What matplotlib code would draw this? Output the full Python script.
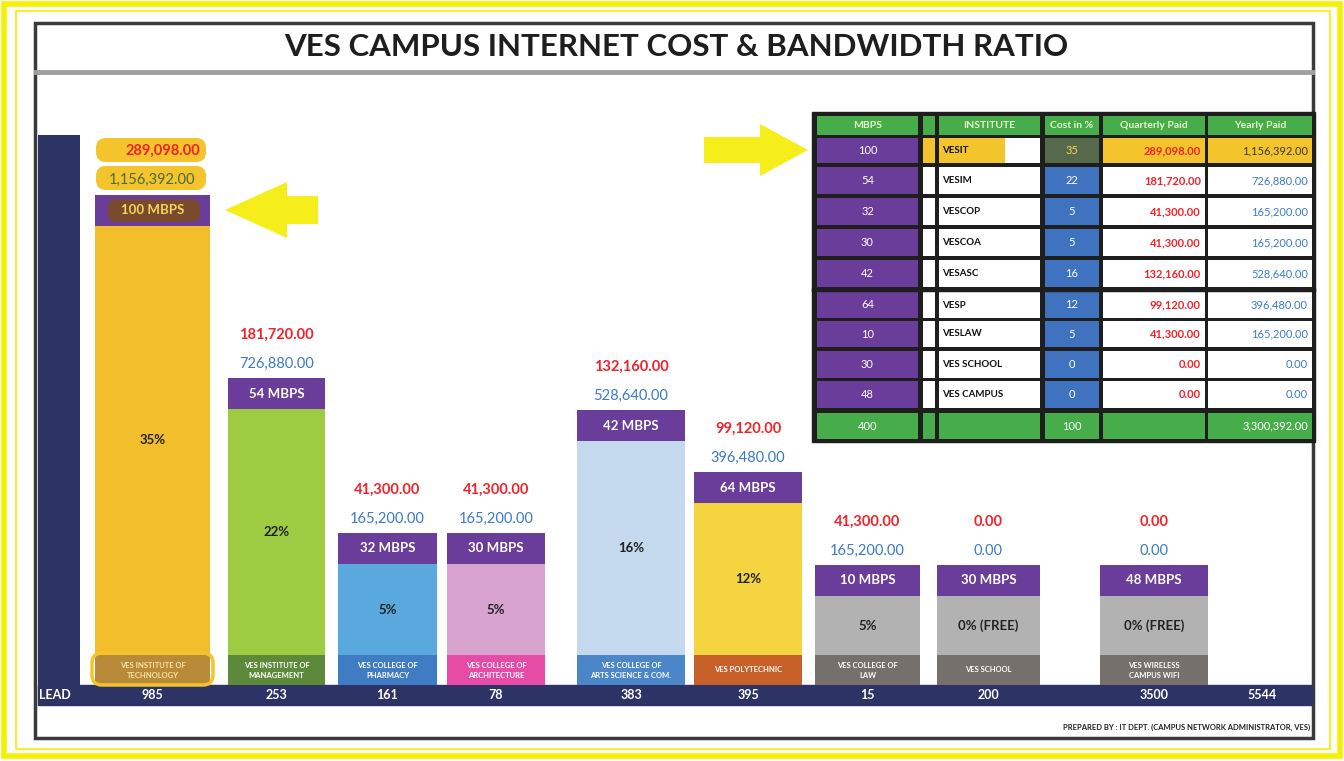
import matplotlib.pyplot as plt
from matplotlib.patches import Rectangle, FancyBboxPatch, Polygon

# chart data
institutes = ["VESIT", "VESIM", "VESCOP", "VESCOA", "VESASC", "VESP", "VESLAW", "VES SCHOOL", "VES CAMPUS"]
bar_names = ["VES INSTITUTE OF\nTECHNOLOGY", "VES INSTITUTE OF\nMANAGEMENT", "VES COLLEGE OF\nPHARMACY",
             "VES COLLEGE OF\nARCHITECTURE", "VES COLLEGE OF\nARTS SCIENCE & COM.", "VES POLYTECHNIC",
             "VES COLLEGE OF\nLAW", "VES SCHOOL", "VES WIRELESS\nCAMPUS WIFI"]
mbps = [100, 54, 32, 30, 42, 64, 10, 30, 48]
cost_pct = [35, 22, 5, 5, 16, 12, 5, 0, 0]
pct_labels = ["35%", "22%", "5%", "5%", "16%", "12%", "5%", "0% (FREE)", "0% (FREE)"]
quarterly = [289098, 181720, 41300, 41300, 132160, 99120, 41300, 0, 0]
yearly = [1156392, 726880, 165200, 165200, 528640, 396480, 165200, 0, 0]
bar_heights = [490, 307, 152, 152, 275, 213, 120, 120, 120]   # drawn height, in picture units
users = ["985", "253", "161", "78", "383", "395", "15", "200", "3500"]
lead_label = "LEAD"
users_total = "5544"
total_mbps = "400"
total_pct = "100"
total_yearly = "3,300,392.00"
table_headers = ["MBPS", "", "INSTITUTE", "Cost in %", "Quarterly Paid", "Yearly Paid"]

# layout (picture pixels, y down)
bar_x = [152.5, 276.5, 387.5, 496, 631, 748, 867.5, 988.5, 1154]
bar_w = [115, 97, 99, 98, 108, 108, 105, 103, 108]
body_colors = ["#F2BE2C", "#9DCB42", "#5AA9DE", "#D9A3CF", "#C4D9EE", "#F5D53F", "#B2B2B2", "#B2B2B2", "#B2B2B2"]
foot_colors = ["#B98A3A", "#5C8A3A", "#3F7CC4", "#E64BA6", "#4A86C8", "#C8602A", "#76706C", "#76706C", "#76706C"]
PURPLE = "#6A3D9A"
NAVY = "#2E3366"
RED = "#F2222A"
BLUE = "#3B7BC8"
BASE = 685
FOOT_H = 30
CAP_H = 31

plt.rcParams['font.family'] = ['Lato', 'DejaVu Sans']

fig = plt.figure(figsize=(13.44, 7.61), dpi=100)
ax = fig.add_axes([0, 0, 1, 1])
ax.set_xlim(0, 1344)
ax.set_ylim(761, 0)
ax.axis('off')

# frames
ax.add_patch(Rectangle((4, 4), 1336, 752, fill=False, ec="#F5F000", lw=4))
ax.add_patch(Rectangle((16, 11), 1314, 738, fill=False, ec="#F5F000", lw=1.2))
ax.add_patch(Rectangle((35, 23), 1278, 715, fill=False, ec="#3A3A3A", lw=2.5))
ax.plot([36, 1312], [72, 72], color="#A0A0A0", lw=3.5)
ax.text(676, 47, "VES CAMPUS INTERNET COST & BANDWIDTH RATIO", ha="center", va="center",
        fontsize=22.5, fontweight="bold", color="#1E1E1E")

# left lead bar and base band
ax.bar(59, BASE - 135, bottom=135, width=42, color=NAVY)
ax.add_patch(Rectangle((38, BASE), 1274, 20, color=NAVY))
ax.text(55, BASE + 10, lead_label, ha="center", va="center", color="white", fontsize=9, fontweight="bold")
for x, u in zip(bar_x, users):
    ax.text(x, BASE + 10, u, ha="center", va="center", color="white", fontsize=9, fontweight="bold")
ax.text(1262, BASE + 10, users_total, ha="center", va="center", color="white", fontsize=9, fontweight="bold")

# bars: footer box, body, purple cap
tops = [BASE - h for h in bar_heights]
ax.bar(bar_x, [CAP_H] * 9, bottom=tops, width=bar_w, color=PURPLE)
body_top = [t + CAP_H for t in tops]
ax.bar(bar_x, [BASE - FOOT_H - b for b in body_top], bottom=body_top, width=bar_w, color=body_colors)
ax.bar(bar_x, [FOOT_H] * 9, bottom=[BASE - FOOT_H] * 9, width=bar_w, color=foot_colors)

# yellow glow round the VESIT footer
ax.add_patch(FancyBboxPatch((92, BASE - FOOT_H - 2), 121, FOOT_H + 2, boxstyle="round,pad=0,rounding_size=10",
                            fc="none", ec="#F4C42C", lw=2.5))

for i, x in enumerate(bar_x):
    t = tops[i]
    mid = (t + CAP_H + BASE - FOOT_H) / 2
    ax.text(x, mid, pct_labels[i], ha="center", va="center", fontsize=9.5, fontweight="bold", color="#222222")
    ax.text(x, BASE - FOOT_H / 2, bar_names[i], ha="center", va="center", fontsize=5.5,
            color="#F4E6A0" if i == 0 else "white", fontweight="bold", linespacing=1.5)
    if i == 0:
        # highlighted labels for VESIT
        for yy in (138, 166):
            ax.add_patch(FancyBboxPatch((96, yy), 110, 24, boxstyle="round,pad=0,rounding_size=10",
                                        fc="#F4C42C", ec="none"))
        ax.text(x + 10, 151, f"{quarterly[i]:,.2f}", ha="center", va="center", fontsize=10.5,
                fontweight="bold", color=RED)
        ax.text(x, 180, f"{yearly[i]:,.2f}", ha="center", va="center", fontsize=10.5, color="#4A6A4A")
        ax.add_patch(FancyBboxPatch((108, t + 4), 92, CAP_H - 8, boxstyle="round,pad=0,rounding_size=8",
                                    fc="#7A4A2E", ec="none"))
        ax.text(x, t + CAP_H / 2, f"{mbps[i]} MBPS", ha="center", va="center", fontsize=9.5,
                fontweight="bold", color="#F4D65A")
    else:
        ax.text(x, t - 43, f"{quarterly[i]:,.2f}", ha="center", va="center", fontsize=10.5,
                fontweight="bold", color=RED)
        ax.text(x, t - 14, f"{yearly[i]:,.2f}", ha="center", va="center", fontsize=10.5, color=BLUE)
        ax.text(x, t + CAP_H / 2, f"{mbps[i]} MBPS", ha="center", va="center", fontsize=9.5,
                fontweight="bold", color="white")

# arrows
ax.add_patch(Polygon([(225, 210), (287, 182), (287, 196), (318, 196), (318, 224), (287, 224), (287, 238)],
                     color="#F5EE1A", ec="none"))
ax.add_patch(Polygon([(808, 150), (760, 124), (760, 137), (704, 137), (704, 163), (760, 163), (760, 176)],
                     color="#F5EE1A", ec="none"))

# table
col_edges = [(817, 918), (923, 935), (939, 1040), (1045, 1099), (1103, 1205), (1208, 1312)]
row_edges = [(116, 135), (138, 163), (167, 194), (198, 225), (229, 256), (260, 287),
             (292, 318), (321, 347), (351, 378), (381, 408), (413, 439)]
ax.add_patch(Rectangle((812, 112), 503, 330, color="#1E1E1E"))
GREEN = "#47AD4A"
TBLUE = "#3F72BF"
for r, (y0, y1) in enumerate(row_edges):
    for c, (x0, x1) in enumerate(col_edges):
        if r == 0 or r == len(row_edges) - 1:
            fc = GREEN
        elif c == 0:
            fc = PURPLE
        elif c == 3:
            fc = TBLUE
        else:
            fc = "white"
        if r == 1:
            fc = {0: PURPLE, 1: "#F4C42C", 2: "#F4C42C", 3: "#56694A", 4: "#F4C42C", 5: "#F4C42C"}[c]
        ax.add_patch(Rectangle((x0, y0), x1 - x0, y1 - y0, color=fc, lw=0))
    if r == 1:
        ax.add_patch(Rectangle((1005, y0), 35, y1 - y0, color="white", lw=0))
    yc = (y0 + y1) / 2
    if r == 0:
        for c, h in enumerate(table_headers):
            ax.text(sum(col_edges[c]) / 2, yc, h, ha="center", va="center", fontsize=7.5,
                    fontweight="bold", color="#E8F5D0")
    elif r == len(row_edges) - 1:
        ax.text(sum(col_edges[0]) / 2, yc, total_mbps, ha="center", va="center", fontsize=8, color="white")
        ax.text(sum(col_edges[3]) / 2, yc, total_pct, ha="center", va="center", fontsize=8, color="white")
        ax.text(1308, yc, total_yearly, ha="right", va="center", fontsize=8, color="white")
    else:
        i = r - 1
        ax.text(sum(col_edges[0]) / 2, yc, str(mbps[i]), ha="center", va="center", fontsize=8, color="white")
        ax.text(942, yc, institutes[i], ha="left", va="center", fontsize=7, fontweight="bold", color="#111111")
        ax.text(sum(col_edges[3]) / 2, yc, str(cost_pct[i]), ha="center", va="center", fontsize=8,
                color="#F4D65A" if i == 0 else "white")
        ax.text(1201, yc, f"{quarterly[i]:,.2f}", ha="right", va="center", fontsize=8,
                fontweight="bold", color=RED)
        ax.text(1308, yc, f"{yearly[i]:,.2f}", ha="right", va="center", fontsize=8,
                color="#3A3A2A" if i == 0 else BLUE)
ax.plot([813, 1314], [289.5, 289.5], color="#1E1E1E", lw=2.5)

ax.text(1310, 727, "PREPARED BY : IT DEPT. (CAMPUS NETWORK ADMINISTRATOR, VES)", ha="right", va="center",
        fontsize=5.5, fontweight="bold", color="#222222")

fig.savefig("out.png", dpi=100, facecolor="white")
